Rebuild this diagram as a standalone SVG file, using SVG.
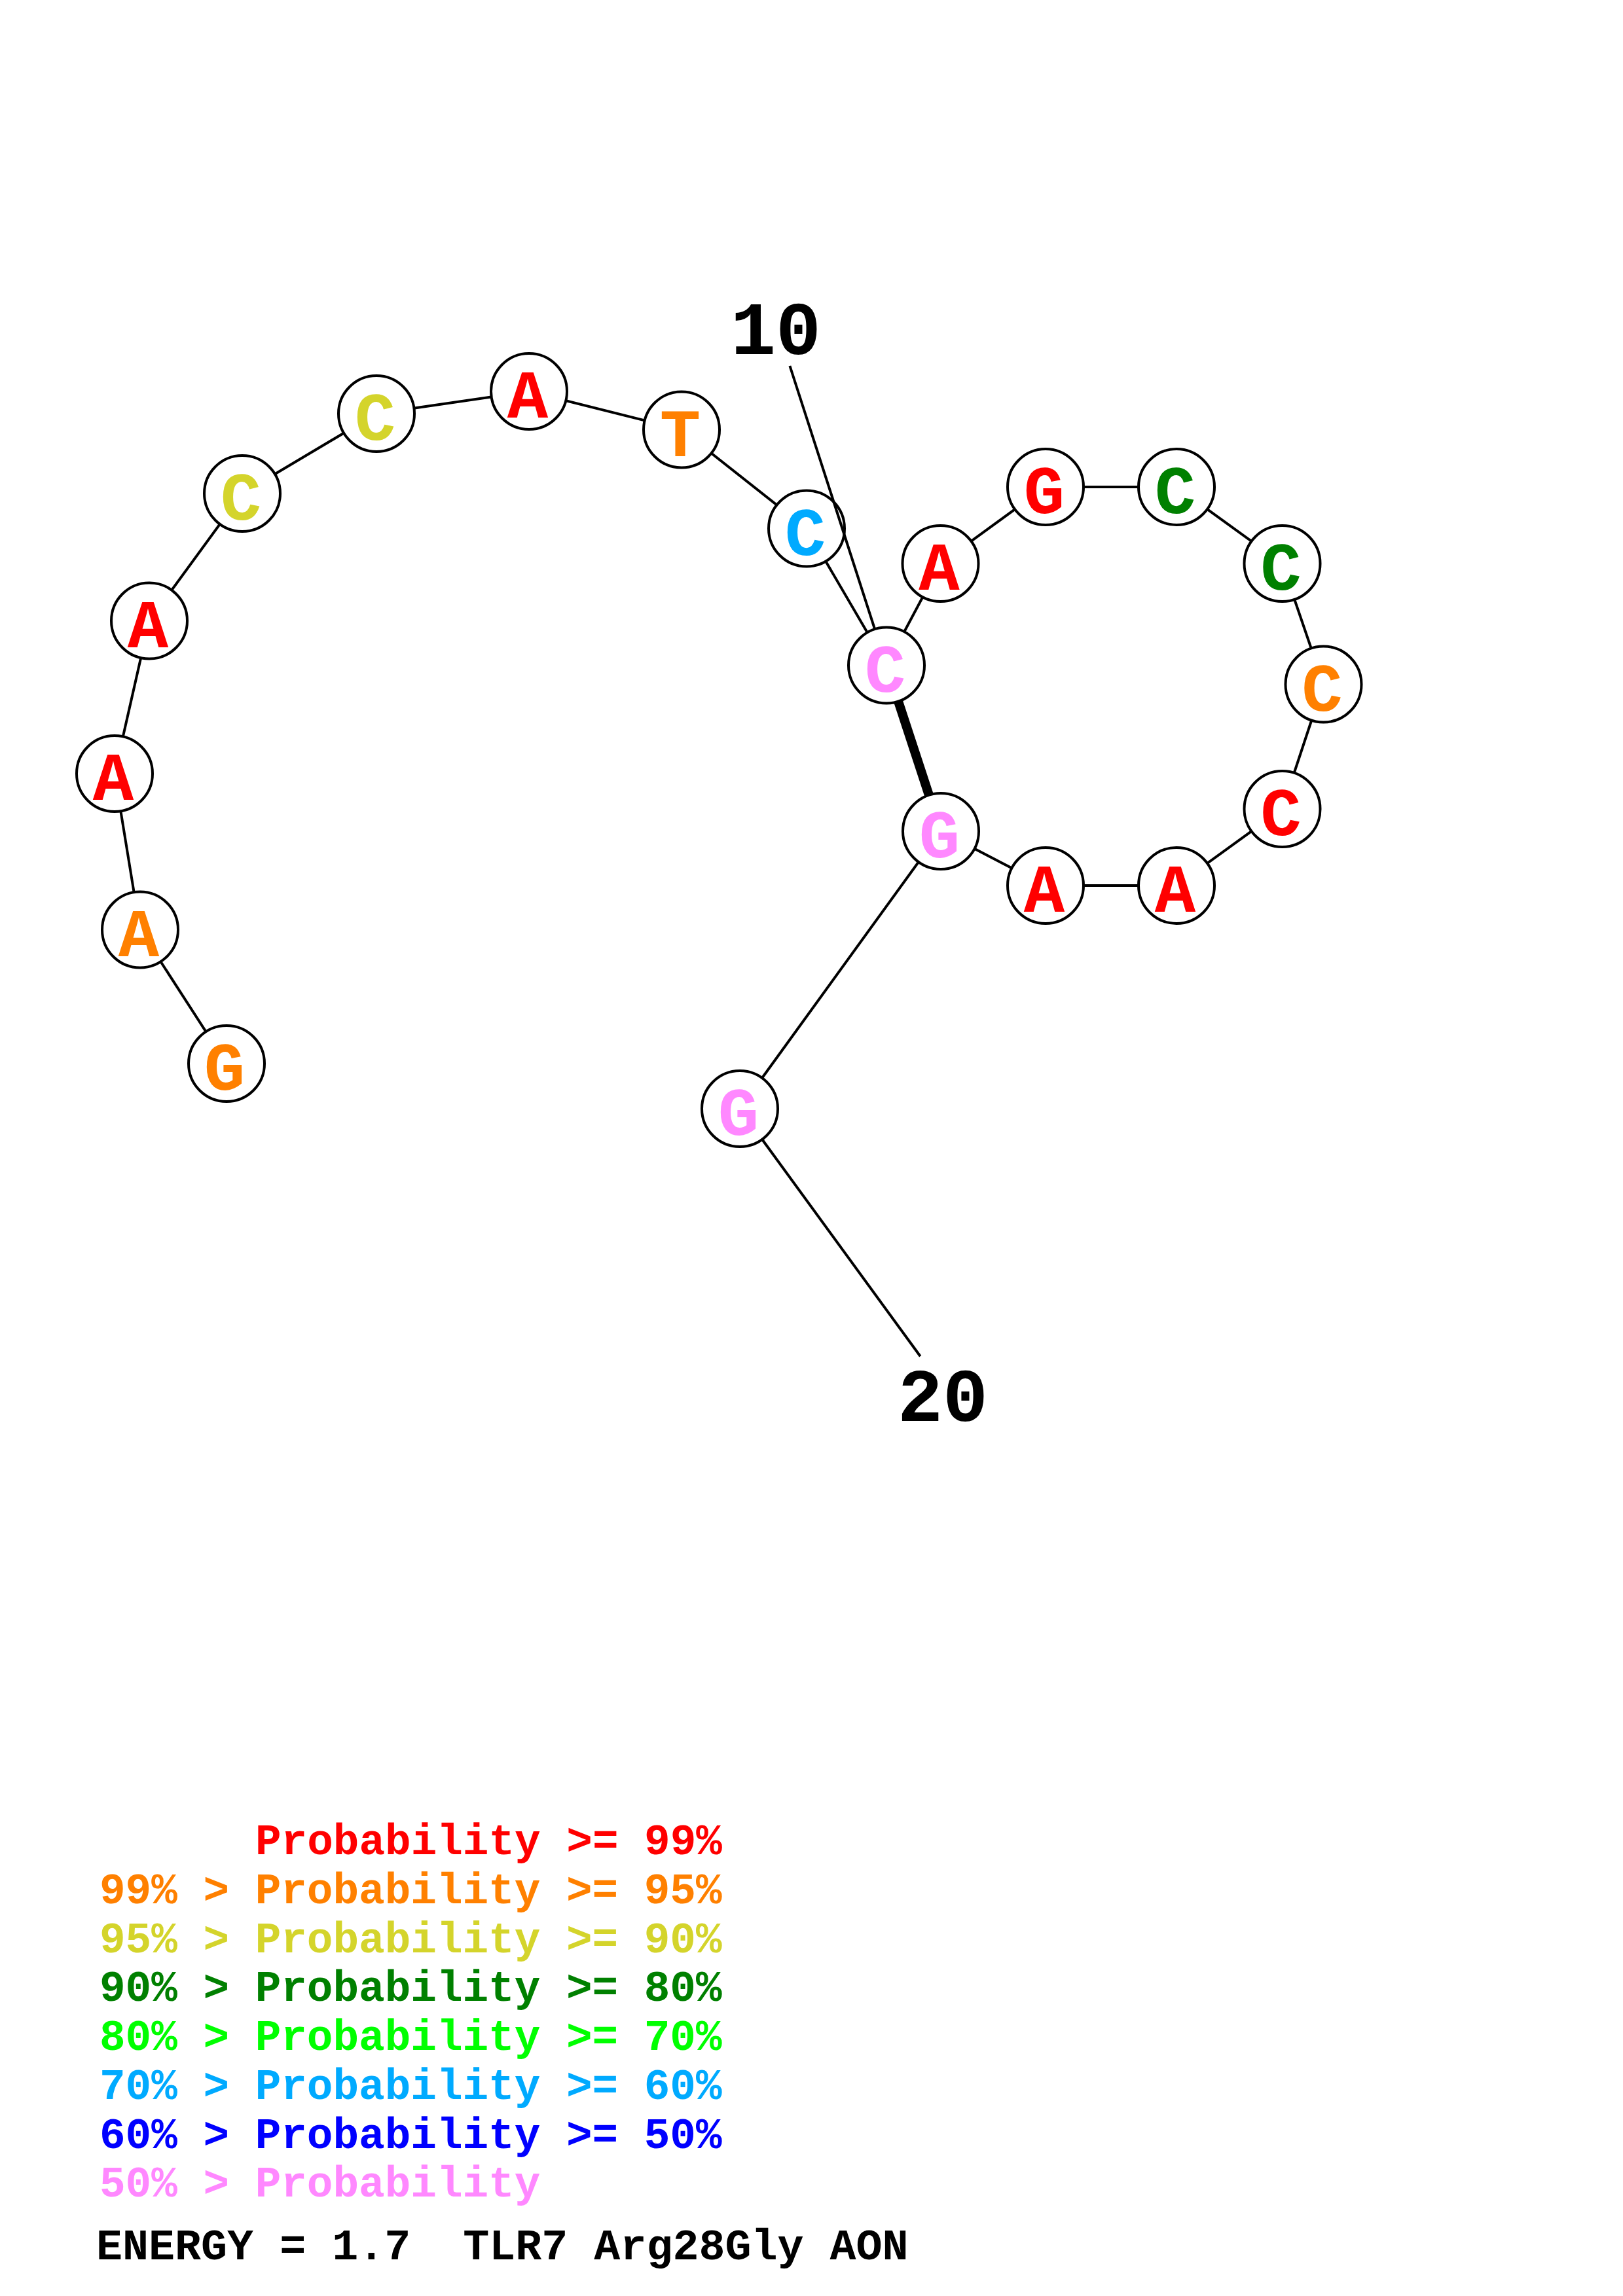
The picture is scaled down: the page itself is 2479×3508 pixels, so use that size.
<svg xmlns="http://www.w3.org/2000/svg" width="2479" height="3508" viewBox="0 0 2479 3508">
<style>
.bb{stroke:#000;stroke-width:4;fill:none}
.bp{stroke:#000;stroke-width:14;fill:none}
.nc{fill:#fff;stroke:#000;stroke-width:4}
.nt{font-family:"Liberation Mono","DejaVu Sans Mono",monospace;font-weight:bold;font-size:104px;text-anchor:middle}
.lb{font-family:"Liberation Mono","DejaVu Sans Mono",monospace;font-weight:bold;font-size:115px;fill:#000}
.lg{font-family:"Liberation Mono","DejaVu Sans Mono",monospace;font-weight:bold;font-size:66px;white-space:pre}
.p99{fill:#FF0000}.p95{fill:#FF8000}.p90{fill:#D4D42B}.p80{fill:#008000}.p70{fill:#00FF00}.p60{fill:#00AAFF}.p50{fill:#0000FF}.p00{fill:#FF88FF}
</style>
<rect width="2479" height="3508" fill="#fff"/>
<g id="connectors">
<polyline class="bb" points="346,1625 214,1420.5 175,1182 228,948.5 370,754 575,632 808,598 1041,656.5 1232,807.5 1354,1016.5 1436.5,861 1597,744 1797,744 1958.5,861 2021.5,1045.5 1958.5,1236 1797,1353 1597,1353 1437,1270 1130,1694"/>
<line class="bp" x1="1354" y1="1016.5" x2="1437" y2="1270"/>
</g>
<g id="n1"><circle class="nc" cx="346" cy="1625" r="58"/><text class="nt p95" x="343" y="1665">G</text></g>
<g id="n2"><circle class="nc" cx="214" cy="1420.5" r="58"/><text class="nt p95" x="212" y="1460.5">A</text></g>
<g id="n3"><circle class="nc" cx="175" cy="1182" r="58"/><text class="nt p99" x="173" y="1222">A</text></g>
<g id="n4"><circle class="nc" cx="228" cy="948.5" r="58"/><text class="nt p99" x="226" y="988.5">A</text></g>
<g id="n5"><circle class="nc" cx="370" cy="754" r="58"/><text class="nt p90" x="368" y="794">C</text></g>
<g id="n6"><circle class="nc" cx="575" cy="632" r="58"/><text class="nt p90" x="573" y="672">C</text></g>
<g id="n7"><circle class="nc" cx="808" cy="598" r="58"/><text class="nt p99" x="806" y="638">A</text></g>
<g id="n8"><circle class="nc" cx="1041" cy="656.5" r="58"/><text class="nt p95" x="1039" y="696.5">T</text></g>
<g id="n9"><circle class="nc" cx="1232" cy="807.5" r="58"/><text class="nt p60" x="1230" y="847.5">C</text></g>
<g id="n10"><circle class="nc" cx="1354" cy="1016.5" r="58"/><text class="nt p00" x="1352" y="1056.5">C</text></g>
<g id="n11"><circle class="nc" cx="1436.5" cy="861" r="58"/><text class="nt p99" x="1434.5" y="901">A</text></g>
<g id="n12"><circle class="nc" cx="1597" cy="744" r="58"/><text class="nt p99" x="1595" y="784">G</text></g>
<g id="n13"><circle class="nc" cx="1797" cy="744" r="58"/><text class="nt p80" x="1795" y="784">C</text></g>
<g id="n14"><circle class="nc" cx="1958.5" cy="861" r="58"/><text class="nt p80" x="1956.5" y="901">C</text></g>
<g id="n15"><circle class="nc" cx="2021.5" cy="1045.5" r="58"/><text class="nt p95" x="2019.5" y="1085.5">C</text></g>
<g id="n16"><circle class="nc" cx="1958.5" cy="1236" r="58"/><text class="nt p99" x="1956.5" y="1276">C</text></g>
<g id="n17"><circle class="nc" cx="1797" cy="1353" r="58"/><text class="nt p99" x="1795" y="1393">A</text></g>
<g id="n18"><circle class="nc" cx="1597" cy="1353" r="58"/><text class="nt p99" x="1595" y="1393">A</text></g>
<g id="n19"><circle class="nc" cx="1437" cy="1270" r="58"/><text class="nt p00" x="1435" y="1310">G</text></g>
<g id="n20"><circle class="nc" cx="1130" cy="1694" r="58"/><text class="nt p00" x="1128" y="1734">G</text></g>
<g id="labels">
<line class="bb" x1="1206.4" y1="559" x2="1336.2" y2="961.3"/>
<text class="lb" x="1116" y="541">10</text>
<line class="bb" x1="1164.2" y1="1741" x2="1405.7" y2="2072.3"/>
<text class="lb" x="1371" y="2171">20</text>
</g>
<g id="legend">
<text class="lg p99" x="390" y="2833">Probability &gt;= 99%</text>
<text class="lg p95" x="152" y="2907.7">99% &gt; Probability &gt;= 95%</text>
<text class="lg p90" x="152" y="2982.5">95% &gt; Probability &gt;= 90%</text>
<text class="lg p80" x="152" y="3057.3">90% &gt; Probability &gt;= 80%</text>
<text class="lg p70" x="152" y="3132">80% &gt; Probability &gt;= 70%</text>
<text class="lg p60" x="152" y="3206.8">70% &gt; Probability &gt;= 60%</text>
<text class="lg p50" x="152" y="3281.6">60% &gt; Probability &gt;= 50%</text>
<text class="lg p00" x="152" y="3356.4">50% &gt; Probability</text>
<text class="lg" fill="#000" x="147" y="3451.7" style="font-size:66.7px">ENERGY = 1.7  TLR7 Arg28Gly AON</text>
</g>
</svg>
